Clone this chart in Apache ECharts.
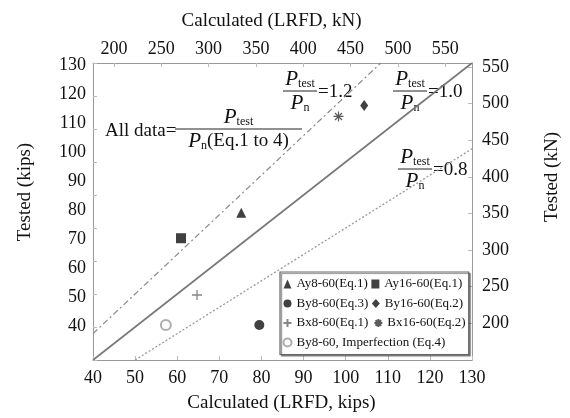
<!DOCTYPE html>
<html><head><meta charset="utf-8">
<script src="https://cdn.jsdelivr.net/npm/echarts@6/dist/echarts.min.js"></script>
<style>html,body{margin:0;padding:0;background:#fff}#c{width:570px;height:418px}</style>
</head><body><div id="c"></div>
<script>
// ---- data ----
const seriesNames = ['Ay8-60(Eq.1)', 'Ay16-60(Eq.1)', 'By8-60(Eq.3)', 'By16-60(Eq.2)', 'Bx8-60(Eq.1)', 'Bx16-60(Eq.2)', 'By8-60, Imperfection (Eq.4)'];
const calcKips = [75.2, 60.9, 79.5, 104.4, 64.7, 98.3, 57.3];
const testKips = [84.6, 76.9, 50.6, 117.1, 59.7, 113.8, 50.6];
const ratioValues = [1.2, 1.0, 0.8];
const ratioLabels = ['=1.2', '=1.0', '=0.8'];
const kipTicks = [40, 50, 60, 70, 80, 90, 100, 110, 120, 130];
const kNTicks = [200, 250, 300, 350, 400, 450, 500, 550];
const KN_PER_KIP = 4.44822;

const FONT = "'Liberation Serif','Times New Roman',serif";
const xMin = 40, xMax = 130, yMin = 40, yMax = 130;

const plusPath = 'path://M5,0L5,10M0,5L10,5';
const starPath = 'path://M5,0L5,10M0,5L10,5M1.5,1.5L8.5,8.5M1.5,8.5L8.5,1.5';
const symbols = ['triangle', 'rect', 'circle', 'diamond', plusPath, starPath, 'emptyCircle'];
const symbolSizes = [10, 10, 10, [8, 11], 10, 10, 10];
const itemStyles = [
  {color: '#111'}, {color: '#111'}, {color: '#111'}, {color: '#111'},
  {color: 'none', borderColor: '#666', borderWidth: 1.3},
  {color: 'none', borderColor: '#333', borderWidth: 1.2},
  {color: '#999', borderWidth: 1.3}
];

const scatterSeries = seriesNames.map((name, i) => ({
  name, type: 'scatter', xAxisIndex: 0, yAxisIndex: 0,
  data: [[calcKips[i], testKips[i]]],
  symbol: symbols[i], symbolSize: symbolSizes[i],
  itemStyle: itemStyles[i], z: 5
}));

const lineStyles = [
  {type: [6, 3, 2, 3], color: '#8a8a8a', width: 1.2},
  {type: 'solid', color: '#777', width: 1.6},
  {type: [2, 2], color: '#999', width: 1.3}
];
const refSeries = ratioValues.map((r, i) => {
  const x0 = Math.max(xMin, yMin / r), x1 = Math.min(xMax, yMax / r);
  return {type: 'line', xAxisIndex: 0, yAxisIndex: 0, data: [[x0, r * x0], [x1, r * x1]],
    symbol: 'none', lineStyle: lineStyles[i], silent: true, z: 2};
});

const tickLabel = {fontFamily: FONT, fontSize: 18, color: '#111'};
const nameStyle = {fontFamily: FONT, fontSize: 19, color: '#111'};
const frameLine = {show: true, onZero: false, lineStyle: {color: '#999', width: 1}};
const tickStyle = {color: '#bbb', width: 1};

// fraction annotations
const pRich = {
  p: {fontFamily: FONT, fontSize: 21, fontStyle: 'italic', fill: '#111', lineHeight: 22},
  s: {fontFamily: FONT, fontSize: 12, fill: '#111', verticalAlign: 'bottom', lineHeight: 12},
  t: {fontFamily: FONT, fontSize: 19, fill: '#111', lineHeight: 22}
};
function fraction(x0, x1, y, den) {
  const cx = (x0 + x1) / 2;
  return [
    {type: 'line', shape: {x1: x0, y1: y, x2: x1, y2: y}, style: {stroke: '#222', lineWidth: 1}},
    {type: 'text', x: cx, y: y - 1, style: {text: '{p|P}{s|test}', rich: pRich, align: 'center', verticalAlign: 'bottom'}},
    {type: 'text', x: cx, y: y + 1, style: {text: den, rich: pRich, align: 'center', verticalAlign: 'top'}}
  ];
}
const fracPos = [[283, 317, 91], [393, 427, 91], [398, 432, 169]];
const graphics = [];
fracPos.forEach((f, i) => {
  graphics.push(...fraction(f[0], f[1], f[2], '{p|P}{s|n}'));
  graphics.push({type: 'text', x: f[1] + 1, y: f[2] + 1, style: {text: ratioLabels[i], fontFamily: FONT, fontSize: 19, fill: '#111', align: 'left', verticalAlign: 'middle'}});
});
graphics.push(...fraction(175, 302, 129, '{p|P}{s|n}{t|(Eq.1 to 4)}'));
graphics.push({type: 'text', x: 105, y: 131, style: {text: 'All data=', fontFamily: FONT, fontSize: 19, fill: '#111', align: 'left', verticalAlign: 'middle'}});

const option = {
  backgroundColor: '#fff',
  animation: false,
  grid: {left: 93, right: 93, top: 63, bottom: 56, containLabel: false},
  xAxis: [
    {type: 'value', position: 'bottom', min: xMin, max: xMax, interval: 10,
     axisLine: frameLine, axisTick: {show: true, inside: true, length: 4, lineStyle: tickStyle},
     axisLabel: Object.assign({margin: 9}, tickLabel), splitLine: {show: false},
     name: 'Calculated (LRFD, kips)', nameLocation: 'middle', nameGap: 34,
     nameTextStyle: Object.assign({padding: [0, 2, 0, 0]}, nameStyle)},
    {type: 'value', position: 'top', min: xMin * KN_PER_KIP, max: xMax * KN_PER_KIP,
     axisLine: frameLine, axisTick: {show: true, inside: true, length: 4, lineStyle: tickStyle, customValues: kNTicks},
     axisLabel: Object.assign({margin: 5, customValues: kNTicks}, tickLabel), splitLine: {show: false},
     name: 'Calculated (LRFD, kN)', nameLocation: 'middle', nameGap: 32,
     nameTextStyle: Object.assign({padding: [0, 22, 0, 0]}, nameStyle)}
  ],
  yAxis: [
    {type: 'value', position: 'left', min: yMin, max: yMax, interval: 10,
     axisLine: frameLine, axisTick: {show: true, inside: true, length: 4, lineStyle: tickStyle},
     axisLabel: {show: false}, splitLine: {show: false}},
    {type: 'value', position: 'left', min: 28.4, max: 130.7,
     axisLine: {show: false}, axisTick: {show: false},
     axisLabel: Object.assign({margin: 7, customValues: kipTicks}, tickLabel), splitLine: {show: false},
     name: 'Tested (kips)', nameLocation: 'middle', nameGap: 58,
     nameTextStyle: Object.assign({padding: [0, 0, 0, 39]}, nameStyle)},
    {type: 'value', position: 'right', min: 149.8, max: 555.4,
     axisLine: frameLine, axisTick: {show: true, inside: true, length: 4, lineStyle: tickStyle, customValues: kNTicks},
     axisLabel: Object.assign({margin: 10, customValues: kNTicks}, tickLabel), splitLine: {show: false},
     name: 'Tested (kN)', nameLocation: 'middle', nameGap: 71, nameRotate: 90,
     nameTextStyle: Object.assign({padding: [0, 0, 0, 69]}, nameStyle)}
  ],
  legend: {
    left: 280, top: 272, width: 190, orient: 'horizontal',
    padding: [4, 3, 4, 1], itemGap: 3.5, itemWidth: 8, itemHeight: 9,
    backgroundColor: '#fff', borderColor: '#666', borderWidth: 1.2,
    shadowColor: 'rgba(0,0,0,0.45)', shadowBlur: 1, shadowOffsetX: 1.5, shadowOffsetY: 1.5,
    textStyle: {fontFamily: FONT, fontSize: 13, color: '#111', lineHeight: 16},
    data: seriesNames
  },
  graphic: graphics,
  series: refSeries.concat(scatterSeries)
};
const chart = echarts.init(document.getElementById('c'));
chart.setOption(option);
</script></body></html>
